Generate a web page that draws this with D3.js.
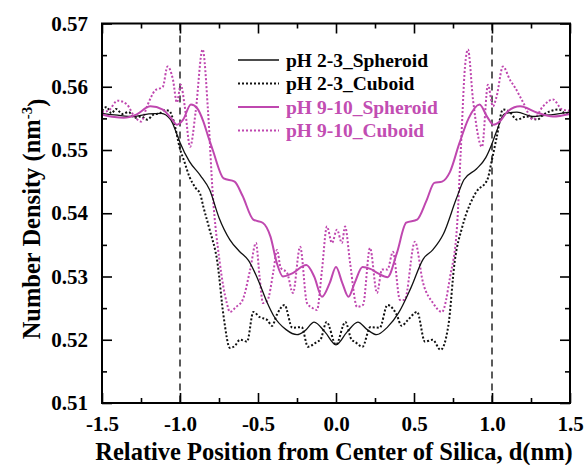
<!DOCTYPE html>
<html>
<head>
<meta charset="utf-8">
<script src="https://cdn.jsdelivr.net/npm/d3@7"></script>
<style>
  html, body { margin: 0; padding: 0; background: #fff; }
  svg { display: block; }
  text { font-family: "Liberation Serif", "Times New Roman", serif; font-weight: bold; }
</style>
</head>
<body>
<svg id="chart" width="587" height="465"></svg>
<script>
// Number density of water around a silica particle, by position (nm)

// pH 2-3, spheroid
const acidSpheroidPos = [-1.5,-1.4,-1.3,-1.2,-1.12,-1.06,-1.02,-1.0,-0.94,-0.87,-0.81,-0.75,-0.68,-0.62,-0.56,-0.5,-0.44,-0.4,-0.32,-0.25,-0.2,-0.14,-0.07,0,0.07,0.14,0.2,0.26,0.33,0.4,0.48,0.56,0.62,0.69,0.77,0.82,0.9,0.96,1.0,1.03,1.08,1.16,1.26,1.35,1.5];
const acidSpheroidVal = [0.5558,0.5555,0.5553,0.5557,0.5558,0.5548,0.5525,0.5512,0.5482,0.5460,0.5437,0.5393,0.5358,0.5340,0.5325,0.5295,0.5258,0.5238,0.5216,0.5208,0.5214,0.5228,0.5212,0.5192,0.5212,0.5228,0.5216,0.5208,0.5220,0.5242,0.5282,0.5328,0.5342,0.5368,0.5422,0.5453,0.5470,0.5488,0.5510,0.5530,0.5557,0.5560,0.5553,0.5555,0.5560];

// pH 2-3, cuboid
const acidCuboidPos = [-1.5,-1.47,-1.44,-1.41,-1.37,-1.33,-1.29,-1.25,-1.21,-1.17,-1.13,-1.1,-1.07,-1.04,-1.0,-0.97,-0.94,-0.9,-0.87,-0.85,-0.81,-0.76,-0.72,-0.68,-0.65,-0.615,-0.57,-0.53,-0.49,-0.44,-0.41,-0.38,-0.33,-0.28,-0.22,-0.18,-0.12,-0.1,-0.06,0,0.06,0.1,0.12,0.17,0.22,0.28,0.33,0.39,0.42,0.46,0.52,0.57,0.62,0.67,0.72,0.76,0.81,0.86,0.9,0.97,1.0,1.03,1.07,1.11,1.16,1.22,1.29,1.33,1.37,1.43,1.47,1.5];
const acidCuboidVal = [0.5562,0.5568,0.5558,0.5565,0.5557,0.5560,0.5551,0.5553,0.5548,0.5556,0.5558,0.5563,0.5562,0.5545,0.5502,0.5480,0.5458,0.5440,0.5430,0.5410,0.5374,0.5322,0.5236,0.5187,0.5190,0.5200,0.5197,0.5244,0.5236,0.5231,0.5222,0.5239,0.5255,0.5219,0.5220,0.5189,0.5197,0.5200,0.5228,0.5192,0.5228,0.5200,0.5197,0.5189,0.5220,0.5219,0.5255,0.5239,0.5222,0.5231,0.5244,0.5197,0.5200,0.5184,0.5222,0.5322,0.5379,0.5415,0.5434,0.5453,0.5485,0.5520,0.5564,0.5561,0.5548,0.5553,0.5548,0.5556,0.5561,0.5564,0.5558,0.5561];

// pH 9-10, spheroid
const baseSpheroidPos = [-1.5,-1.42,-1.36,-1.28,-1.19,-1.11,-1.05,-1.02,-0.98,-0.93,-0.89,-0.85,-0.82,-0.79,-0.72,-0.65,-0.6,-0.53,-0.47,-0.42,-0.38,-0.34,-0.28,-0.19,-0.14,-0.09,-0.04,0,0.04,0.08,0.12,0.17,0.22,0.27,0.33,0.39,0.45,0.52,0.58,0.63,0.68,0.73,0.79,0.85,0.92,0.97,1.01,1.05,1.1,1.18,1.29,1.39,1.5];
const baseSpheroidVal = [0.5556,0.5552,0.5551,0.5556,0.5569,0.5564,0.5548,0.5540,0.5548,0.5572,0.5566,0.5545,0.5522,0.5500,0.5455,0.5450,0.5428,0.5390,0.5385,0.5363,0.5322,0.5300,0.5305,0.5318,0.5300,0.5268,0.5290,0.5315,0.5290,0.5268,0.5290,0.5315,0.5312,0.5305,0.5299,0.5337,0.5385,0.5390,0.5420,0.5448,0.5450,0.5465,0.5510,0.5550,0.5572,0.5552,0.5540,0.5545,0.5561,0.5569,0.5559,0.5553,0.5557];

// pH 9-10, cuboid
const baseCuboidPos = [-1.5,-1.46,-1.4,-1.34,-1.3,-1.25,-1.21,-1.16,-1.11,-1.08,-1.045,-1.02,-0.995,-0.97,-0.935,-0.9,-0.855,-0.82,-0.79,-0.745,-0.7,-0.68,-0.64,-0.6,-0.55,-0.513,-0.49,-0.468,-0.44,-0.4,-0.378,-0.355,-0.314,-0.276,-0.23,-0.186,-0.15,-0.122,-0.09,-0.058,-0.026,0.006,0.038,0.058,0.09,0.135,0.173,0.218,0.263,0.295,0.33,0.365,0.41,0.44,0.506,0.558,0.622,0.679,0.731,0.776,0.8,0.827,0.846,0.878,0.936,0.974,1.006,1.03,1.07,1.115,1.147,1.2,1.263,1.327,1.39,1.45,1.5];
const baseCuboidVal = [0.5560,0.5562,0.5578,0.5572,0.5556,0.5545,0.5570,0.5594,0.5600,0.5632,0.5611,0.5575,0.5603,0.5570,0.5505,0.5560,0.5659,0.5560,0.5430,0.5322,0.5258,0.5244,0.5252,0.5262,0.5311,0.5353,0.5300,0.5258,0.5262,0.5310,0.5342,0.5314,0.5306,0.5274,0.5347,0.5258,0.5250,0.5247,0.5310,0.5379,0.5353,0.5374,0.5353,0.5379,0.5322,0.5252,0.5255,0.5345,0.5274,0.5311,0.5311,0.5339,0.5263,0.5263,0.5355,0.5290,0.5258,0.5244,0.5299,0.5380,0.5500,0.5632,0.5659,0.5580,0.5505,0.5603,0.5569,0.5585,0.5632,0.5611,0.5599,0.5575,0.5548,0.5569,0.5580,0.5564,0.5562];

const seriesNames = ["pH 2-3_Spheroid", "pH 2-3_Cuboid", "pH 9-10_Spheroid", "pH 9-10_Cuboid"];
const xTickValues = [-1.5, -1.0, -0.5, 0.0, 0.5, 1.0, 1.5];
const xTickLabels = ["-1.5", "-1.0", "-0.5", "0.0", "0.5", "1.0", "1.5"];
const yTickValues = [0.51, 0.52, 0.53, 0.54, 0.55, 0.56, 0.57];
const yTickLabels = ["0.51", "0.52", "0.53", "0.54", "0.55", "0.56", "0.57"];
const boundaryPos = [-1.0, 1.0];

const BLACK = "#111111";
const MAGENTA = "#BF47AF";

const svg = d3.select("#chart");
const plotLeft = 102, plotRight = 570, plotTop = 23.5, plotBottom = 403;

const x = d3.scaleLinear().domain([-1.5, 1.5]).range([plotLeft, plotRight]);
const y = d3.scaleLinear().domain([0.51, 0.57]).range([plotBottom, plotTop]);

// minor ticks
const xMinor = d3.range(-1.25, 1.5, 0.5);
const yMinor = d3.range(0.515, 0.57, 0.01);

const g = svg.append("g");

// boundary markers at +/- 1 nm
g.selectAll("line.boundary").data(boundaryPos).enter().append("line")
  .attr("x1", d => x(d)).attr("x2", d => x(d))
  .attr("y1", plotTop).attr("y2", plotBottom)
  .attr("stroke", "#333").attr("stroke-width", 1.6)
  .attr("stroke-dasharray", "7,5");

const line = d3.line().x(d => x(d[0])).y(d => y(d[1])).curve(d3.curveMonotoneX);
const zip = (a, b) => a.map((d, i) => [d, b[i]]);

const series = [
  { pts: zip(acidCuboidPos, acidCuboidVal), color: BLACK, width: 2, dash: "2,2" },
  { pts: zip(baseCuboidPos, baseCuboidVal), color: MAGENTA, width: 2, dash: "2,2" },
  { pts: zip(acidSpheroidPos, acidSpheroidVal), color: BLACK, width: 1.3, dash: null },
  { pts: zip(baseSpheroidPos, baseSpheroidVal), color: MAGENTA, width: 2, dash: null }
];

g.selectAll("path.series").data(series).enter().append("path")
  .attr("d", d => line(d.pts))
  .attr("fill", "none")
  .attr("stroke", d => d.color)
  .attr("stroke-width", d => d.width)
  .attr("stroke-dasharray", d => d.dash);

// axes: labelled bottom/left, mirrored ticks top/right
const fontSize = 21;
const xAxis = d3.axisBottom(x).tickValues(xTickValues).tickFormat((d, i) => xTickLabels[i]).tickSize(-10).tickPadding(13);
const yAxis = d3.axisLeft(y).tickValues(yTickValues).tickFormat((d, i) => yTickLabels[i]).tickSize(-10).tickPadding(14);

function styleAxis(sel) {
  sel.select(".domain").remove();
  sel.selectAll(".tick line").attr("stroke", "#000").attr("stroke-width", 1.6);
  sel.selectAll("text").attr("fill", "#000").style("font-size", fontSize + "px")
    .style("font-family", "'Liberation Serif', serif").style("font-weight", "bold");
}

svg.append("g").attr("transform", `translate(0,${plotBottom})`).call(xAxis).call(styleAxis);
svg.append("g").attr("transform", `translate(${plotLeft},0)`).call(yAxis).call(styleAxis);
svg.append("g").attr("transform", `translate(0,${plotTop})`)
  .call(d3.axisTop(x).tickValues(xTickValues).tickFormat("").tickSize(-10)).call(styleAxis);
svg.append("g").attr("transform", `translate(${plotRight},0)`)
  .call(d3.axisRight(y).tickValues(yTickValues).tickFormat("").tickSize(-10)).call(styleAxis);

svg.append("g").attr("transform", `translate(0,${plotBottom})`)
  .call(d3.axisBottom(x).tickValues(xMinor).tickFormat("").tickSize(-5)).call(styleAxis);
svg.append("g").attr("transform", `translate(0,${plotTop})`)
  .call(d3.axisTop(x).tickValues(xMinor).tickFormat("").tickSize(-5)).call(styleAxis);
svg.append("g").attr("transform", `translate(${plotLeft},0)`)
  .call(d3.axisLeft(y).tickValues(yMinor).tickFormat("").tickSize(-5)).call(styleAxis);
svg.append("g").attr("transform", `translate(${plotRight},0)`)
  .call(d3.axisRight(y).tickValues(yMinor).tickFormat("").tickSize(-5)).call(styleAxis);

// frame
svg.append("rect").attr("x", plotLeft).attr("y", plotTop)
  .attr("width", plotRight - plotLeft).attr("height", plotBottom - plotTop)
  .attr("fill", "none").attr("stroke", "#000").attr("stroke-width", 2);

// axis titles
svg.append("text").attr("x", 334).attr("y", 459.5).attr("text-anchor", "middle")
  .style("font-size", "24.5px").text("Relative Position from Center of Silica, d(nm)");

const yTitle = svg.append("text").attr("transform", "translate(40,219) rotate(-90)")
  .attr("text-anchor", "middle").style("font-size", "24.5px");
yTitle.append("tspan").text("Number Density (nm");
yTitle.append("tspan").attr("dy", "-0.55em").style("font-size", "15px").text("-3");
yTitle.append("tspan").attr("dy", "0.55em").text(")");

// legend
const legendRows = [
  { name: seriesNames[0], color: BLACK, width: 1.6, dash: null },
  { name: seriesNames[1], color: BLACK, width: 2, dash: "2,2" },
  { name: seriesNames[2], color: MAGENTA, width: 2, dash: null },
  { name: seriesNames[3], color: MAGENTA, width: 2, dash: "2,2" }
];
const legend = svg.append("g");
const rowY = [60, 83.5, 107, 130.5];
legend.selectAll("line").data(legendRows).enter().append("line")
  .attr("x1", 238).attr("x2", 279)
  .attr("y1", (d, i) => rowY[i]).attr("y2", (d, i) => rowY[i])
  .attr("stroke", d => d.color).attr("stroke-width", d => d.width)
  .attr("stroke-dasharray", d => d.dash);
legend.selectAll("text").data(legendRows).enter().append("text")
  .attr("x", 286).attr("y", (d, i) => rowY[i]).attr("dy", "0.35em")
  .attr("fill", d => d.color === BLACK ? "#000" : "#C24DB2")
  .style("font-size", "19.5px").text(d => d.name);
</script>
</body>
</html>
